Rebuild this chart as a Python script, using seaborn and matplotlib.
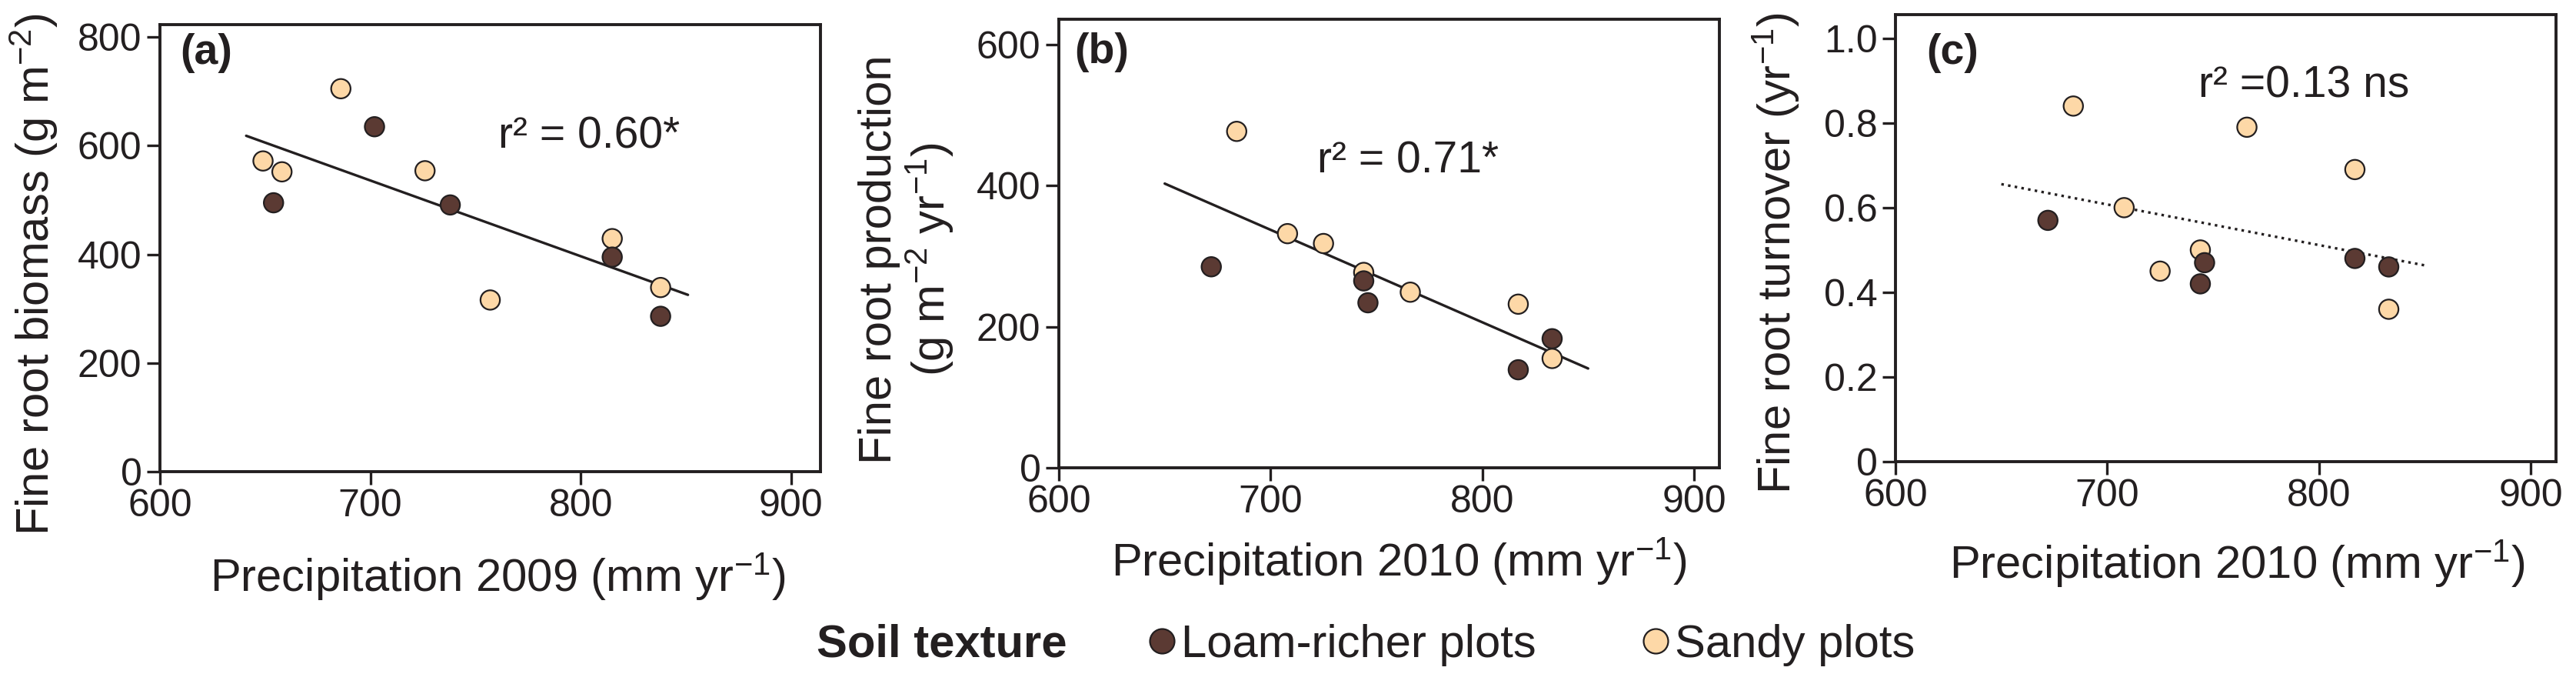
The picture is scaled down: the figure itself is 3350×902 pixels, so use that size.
import numpy as np
import pandas as pd
import matplotlib
matplotlib.use("Agg")
import matplotlib.pyplot as plt
from matplotlib.lines import Line2D
import seaborn as sns

sns.set_theme(style="ticks")
plt.rcParams['font.family'] = ['Liberation Sans', 'DejaVu Sans']
plt.rcParams['mathtext.default'] = 'regular'

ink = '#231f20'
loam_color = '#5b3a33'
sandy_color = '#fdd8a7'

# Precipitation (mm/yr) per plot
precip2009_loam = [654, 702, 738, 815, 838]
precip2009_sandy = [649, 658, 686, 726, 757, 815, 838]
precip2010_loam = [672, 744, 746, 817, 833]
precip2010_sandy = [684, 708, 725, 744, 766, 817, 833]

# Fine root biomass (g m-2)
biomass_loam = [495, 635, 491, 395, 286]
biomass_sandy = [572, 552, 705, 554, 316, 429, 339]

# Fine root production (g m-2 yr-1)
production_loam = [285, 265, 234, 139, 183]
production_sandy = [477, 332, 318, 277, 249, 232, 155]

# Fine root turnover (yr-1)
turnover_loam = [0.57, 0.42, 0.47, 0.48, 0.46]
turnover_sandy = [0.84, 0.60, 0.45, 0.50, 0.79, 0.69, 0.36]

# x span over which each regression line is drawn
fit_span_a = [641, 851]
fit_span_b = [650, 850]
fit_span_c = [650, 850]

labels_r2 = ['r² = 0.60*', 'r² = 0.71*', 'r² =0.13 ns']


def make_frame(x_sandy, y_sandy, x_loam, y_loam):
    # sandy first so loam points are drawn on top
    return pd.DataFrame({
        'precip': list(x_sandy) + list(x_loam),
        'value': list(y_sandy) + list(y_loam),
        'soil': ['Sandy plots'] * len(x_sandy) + ['Loam-richer plots'] * len(x_loam),
    })


df_a = make_frame(precip2009_sandy, biomass_sandy, precip2009_loam, biomass_loam)
df_b = make_frame(precip2010_sandy, production_sandy, precip2010_loam, production_loam)
df_c = make_frame(precip2010_sandy, turnover_sandy, precip2010_loam, turnover_loam)

palette = {'Loam-richer plots': loam_color, 'Sandy plots': sandy_color}

fig = plt.figure(figsize=(33.5, 9.02), dpi=100)
ax_a = fig.add_axes([208 / 3350, 1 - 613 / 902, 859 / 3350, 581 / 902])
ax_b = fig.add_axes([1377 / 3350, 1 - 608 / 902, 859 / 3350, 583 / 902])
ax_c = fig.add_axes([2465 / 3350, 1 - 600 / 902, 859 / 3350, 581 / 902])

panels = [
    (ax_a, df_a, fit_span_a, '-', (600, 914), (0, 823), [0, 200, 400, 600, 800],
     ['0', '200', '400', '600', '800'], 'Fine root biomass (g m$^{-2}$)',
     'Precipitation 2009 (mm yr$^{-1}$)', '(a)', (0.031, 0.981), (761, 595),
     (-0.151, 0.442), (0.511, -0.177)),
    (ax_b, df_b, fit_span_b, '-', (600, 912), (0, 636), [0, 200, 400, 600],
     ['0', '200', '400', '600'], 'Fine root production\n(g m$^{-2}$ yr$^{-1}$)',
     'Precipitation 2010 (mm yr$^{-1}$)', '(b)', (0.023, 0.971), (722, 418),
     (-0.156, 0.465), (0.515, -0.151)),
    (ax_c, df_c, fit_span_c, ':', (600, 912), (0, 1.056), [0, 0.2, 0.4, 0.6, 0.8, 1.0],
     ['0', '0.2', '0.4', '0.6', '0.8', '1.0'], 'Fine root turnover (yr$^{-1}$)',
     'Precipitation 2010 (mm yr$^{-1}$)', '(c)', (0.047, 0.959), (743, 0.861),
     (-0.142, 0.466), (0.517, -0.170)),
]

for i, (ax, df, span, ls, xlim, ylim, yticks, yticklabels, ylabel, xlabel,
        letter, letter_pos, r2_pos, ylab_pos, xlab_pos) in enumerate(panels):
    # regression over all plots
    slope, intercept = np.polyfit(df['precip'], df['value'], 1)
    xs = np.array(span)
    ax.plot(xs, slope * xs + intercept, color=ink, lw=2.4, ls=ls, zorder=1)

    sns.scatterplot(data=df, x='precip', y='value', hue='soil', palette=palette,
                    s=330, edgecolor=ink, linewidth=1.6, legend=False, ax=ax, zorder=3)

    ax.set_xlim(*xlim)
    ax.set_ylim(*ylim)
    ax.set_xticks([600, 700, 800, 900])
    ax.set_xticklabels(['600', '700', '800', '900'])
    ax.set_yticks(yticks)
    ax.set_yticklabels(yticklabels)
    for sp in ax.spines.values():
        sp.set_visible(True)
        sp.set_linewidth(2.8)
        sp.set_color(ink)
    ax.tick_params(axis='both', length=12, width=2.4, colors=ink, labelsize=36,
                   labelcolor=ink, direction='out')
    ax.tick_params(axis='x', pad=4)
    ax.tick_params(axis='y', pad=5)

    ax.set_ylabel(ylabel, fontsize=43, color=ink, linespacing=1.1)
    ax.set_xlabel(xlabel, fontsize=43, color=ink)
    ax.yaxis.set_label_coords(*ylab_pos)
    ax.xaxis.set_label_coords(*xlab_pos)

    ax.text(letter_pos[0], letter_pos[1], letter, transform=ax.transAxes,
            fontsize=40, fontweight='bold', color=ink, ha='left', va='top')
    ax.text(r2_pos[0], r2_pos[1], labels_r2[i], fontsize=41, color=ink,
            ha='left', va='baseline')

# Shared legend along the bottom
legend_y = 1 - 838 / 902
fig.text(1062 / 3350, legend_y, 'Soil texture', fontsize=43, fontweight='bold',
         color=ink, ha='left', va='center')
handles = [
    Line2D([], [], ls='none', marker='o', markersize=23, markerfacecolor=loam_color,
           markeredgecolor=ink, markeredgewidth=1.6),
    Line2D([], [], ls='none', marker='o', markersize=23, markerfacecolor=sandy_color,
           markeredgecolor=ink, markeredgewidth=1.6),
]
leg = fig.legend(handles, ['Loam-richer plots', 'Sandy plots'], loc='center left',
                 bbox_to_anchor=(1493 / 3350, legend_y), ncol=2, frameon=False,
                 fontsize=43, handlelength=0.6, handletextpad=0.12,
                 columnspacing=2.3, borderpad=0, borderaxespad=0)
for t in leg.get_texts():
    t.set_color(ink)

fig.savefig('out.png', dpi=100)
